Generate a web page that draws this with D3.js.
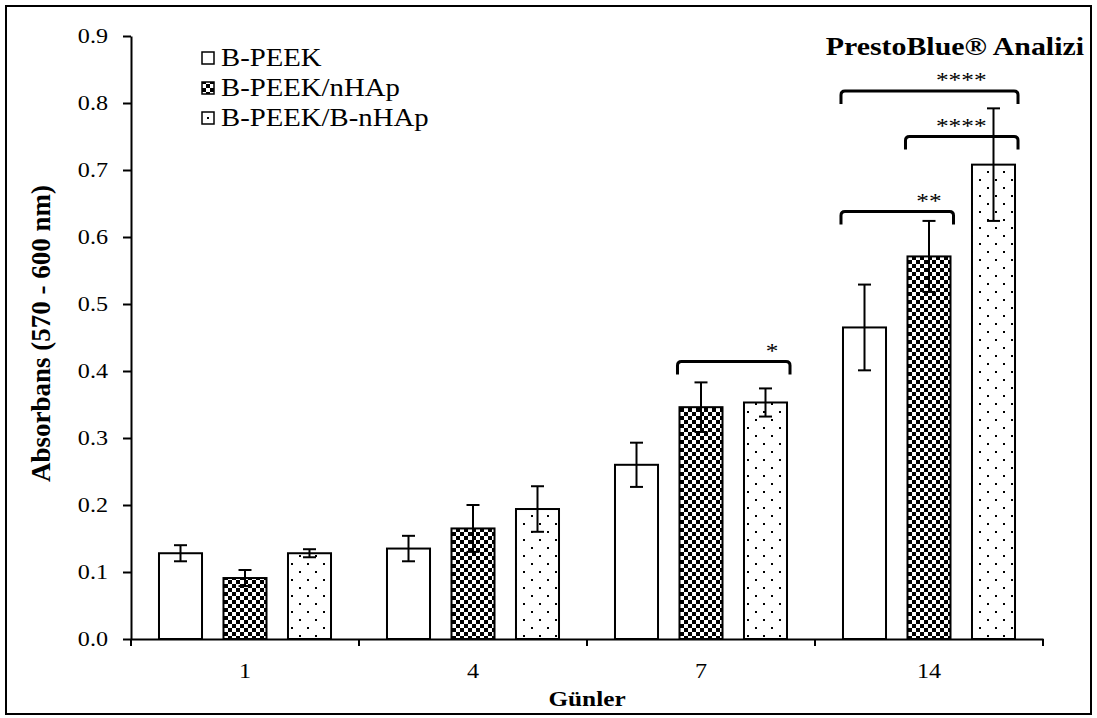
<!DOCTYPE html>
<html>
<head>
<meta charset="utf-8">
<script src="https://cdn.jsdelivr.net/npm/d3@7"></script>
<style>
  body { margin: 0; background: #fff; }
  svg text { font-family: "Liberation Serif", "Times New Roman", serif; fill: #000; }
</style>
</head>
<body>
<div id="vis-container"></div>
<script>
// chart data
const days = ["1", "4", "7", "14"];
const groups = ["B-PEEK", "B-PEEK/nHAp", "B-PEEK/B-nHAp"];
const peek = [0.128, 0.135, 0.260, 0.465];
const peekErr = [0.012, 0.019, 0.033, 0.064];
const nhap = [0.091, 0.165, 0.346, 0.571];
const nhapErr = [0.012, 0.035, 0.037, 0.053];
const bnhap = [0.128, 0.194, 0.353, 0.708];
const bnhapErr = [0.006, 0.034, 0.021, 0.084];
const yTicks = [0, 0.1, 0.2, 0.3, 0.4, 0.5, 0.6, 0.7, 0.8, 0.9];

// significance brackets
const sigDay = ["7", "14", "14", "14"];
const sigFrom = [1, 0, 1, 0];
const sigTo = [2, 1, 2, 2];
const sigLevel = [0.414, 0.638, 0.750, 0.818];
const sigStars = ["*", "**", "****", "****"];
const sigStarAt = [2.1, 1, 1.5, 1.5];

const width = 1097;
const height = 718;
const margin = { top: 36, right: 54, bottom: 79, left: 131 };
const SX = 1.15; // the picture is a bit stretched sideways

const svg = d3.select("#vis-container")
    .append("svg")
    .attr("width", width)
    .attr("height", height);

// patterns
const defs = svg.append("defs");
const checker = defs.append("pattern")
    .attr("id", "checker")
    .attr("patternUnits", "userSpaceOnUse")
    .attr("width", 8).attr("height", 8);
checker.append("rect").attr("width", 8).attr("height", 8).attr("fill", "#fff");
checker.append("rect").attr("width", 4).attr("height", 4).attr("fill", "#000");
checker.append("rect").attr("x", 4).attr("y", 4).attr("width", 4).attr("height", 4).attr("fill", "#000");

const dots = defs.append("pattern")
    .attr("id", "dots")
    .attr("patternUnits", "userSpaceOnUse")
    .attr("width", 16).attr("height", 16);
dots.append("rect").attr("width", 16).attr("height", 16).attr("fill", "#fff");
dots.append("rect").attr("x", 3).attr("y", 3).attr("width", 2).attr("height", 2).attr("fill", "#000");
dots.append("rect").attr("x", 11).attr("y", 11).attr("width", 2).attr("height", 2).attr("fill", "#000");

const fills = ["#fff", "url(#checker)", "url(#dots)"];

// outer frame
svg.append("rect")
    .attr("x", 6).attr("y", 6)
    .attr("width", width - 12).attr("height", height - 10)
    .attr("fill", "none")
    .attr("stroke", "#000")
    .attr("stroke-width", 2);

// scales
const x0 = d3.scaleBand()
    .domain(days)
    .range([margin.left, width - margin.right])
    .padding(0);

const x1 = d3.scaleBand()
    .domain(d3.range(groups.length))
    .range([0, x0.bandwidth()])
    .paddingInner(0.333)
    .paddingOuter(0.434);

const y = d3.scaleLinear()
    .domain([0, 0.9])
    .range([height - margin.bottom, margin.top]);

// rows for drawing
const series = [
    { vals: peek, errs: peekErr },
    { vals: nhap, errs: nhapErr },
    { vals: bnhap, errs: bnhapErr }
];
const rows = [];
series.forEach((s, g) => {
    days.forEach((d, i) => {
        rows.push({ day: d, g: g, v: s.vals[i], e: s.errs[i] });
    });
});

// bars
svg.append("g")
    .selectAll("rect")
    .data(rows)
    .enter()
    .append("rect")
    .attr("x", (d) => x0(d.day) + x1(d.g))
    .attr("y", (d) => y(d.v))
    .attr("width", x1.bandwidth())
    .attr("height", (d) => y(0) - y(d.v))
    .attr("fill", (d) => fills[d.g])
    .attr("stroke", "#000")
    .attr("stroke-width", 2);

// error bars
const eb = svg.append("g")
    .attr("stroke", "#000")
    .attr("stroke-width", 2)
    .selectAll("g")
    .data(rows)
    .enter()
    .append("g")
    .attr("transform", (d) => `translate(${x0(d.day) + x1(d.g) + x1.bandwidth() / 2},0)`);
eb.append("line")
    .attr("y1", (d) => y(d.v - d.e))
    .attr("y2", (d) => y(d.v + d.e));
eb.append("line")
    .attr("x1", -6.5).attr("x2", 6.5)
    .attr("y1", (d) => y(d.v + d.e))
    .attr("y2", (d) => y(d.v + d.e));
eb.append("line")
    .attr("x1", -6.5).attr("x2", 6.5)
    .attr("y1", (d) => y(d.v - d.e))
    .attr("y2", (d) => y(d.v - d.e));

// y axis
const yAxis = svg.append("g")
    .attr("transform", `translate(${margin.left},0)`)
    .call(d3.axisLeft(y)
        .tickValues(yTicks)
        .tickFormat(d3.format(".1f"))
        .tickSize(8)
        .tickSizeOuter(0)
        .tickPadding(12));
yAxis.select(".domain").attr("stroke-width", 2);
yAxis.selectAll(".tick line").attr("stroke-width", 2);
yAxis.selectAll(".tick text")
    .attr("font-family", "Liberation Serif")
    .attr("font-size", 21)
    .attr("transform", `scale(${SX},1)`);

// x axis: labels at band centres, ticks on the band edges
const xAxis = svg.append("g")
    .attr("transform", `translate(0,${y(0)})`)
    .call(d3.axisBottom(x0).tickSize(0).tickSizeOuter(0).tickPadding(24));
xAxis.select(".domain").attr("stroke-width", 2);
xAxis.selectAll(".tick text")
    .attr("font-family", "Liberation Serif")
    .attr("font-size", 21)
    .attr("transform", `scale(${SX},1)`);
xAxis.selectAll(".edge")
    .data(days.concat(["end"]))
    .enter()
    .append("line")
    .attr("class", "edge")
    .attr("x1", (d) => d === "end" ? x0.range()[1] : x0(d))
    .attr("x2", (d) => d === "end" ? x0.range()[1] : x0(d))
    .attr("y1", 0).attr("y2", 7)
    .attr("stroke", "#000")
    .attr("stroke-width", 2);

// axis titles
svg.append("text")
    .attr("transform", `translate(${(x0.range()[0] + x0.range()[1]) / 2},${height - 12}) scale(${SX},1)`)
    .attr("text-anchor", "middle")
    .attr("font-size", 22)
    .attr("font-weight", "bold")
    .text("Günler");

svg.append("text")
    .attr("transform", `translate(50,${(y(0) + y(0.9)) / 2 - 4}) rotate(-90)`)
    .attr("text-anchor", "middle")
    .attr("font-size", 27)
    .attr("font-weight", "bold")
    .text("Absorbans (570 - 600 nm)");

// title
svg.append("text")
    .attr("transform", `translate(1084,55) scale(${SX},1)`)
    .attr("text-anchor", "end")
    .attr("font-size", 26)
    .attr("font-weight", "bold")
    .text("PrestoBlue® Analizi");

// legend
const legend = svg.append("g")
    .selectAll("g")
    .data(groups)
    .enter()
    .append("g")
    .attr("transform", (d, i) => `translate(202,${58 + i * 30})`);
legend.append("rect")
    .attr("x", 0).attr("y", -6)
    .attr("width", 12).attr("height", 12)
    .attr("fill", (d, i) => i === 1 ? "url(#checker)" : "#fff")
    .attr("stroke", "#000")
    .attr("stroke-width", 1.5);
legend.filter((d, i) => i === 2)
    .append("rect")
    .attr("x", 5).attr("y", -1)
    .attr("width", 2).attr("height", 2)
    .attr("fill", "#000");
legend.append("text")
    .attr("transform", `translate(19,8) scale(${SX},1)`)
    .attr("font-size", 25)
    .text((d) => d);

// significance brackets
const sig = svg.append("g")
    .selectAll("g")
    .data(sigStars.map((s, i) => ({
        day: sigDay[i], a: sigFrom[i], b: sigTo[i], lvl: sigLevel[i], stars: s, at: sigStarAt[i]
    })))
    .enter()
    .append("g");
sig.append("path")
    .attr("d", (d) => {
        const xa = x0(d.day) + x1(d.a) - 2;
        const xb = x0(d.day) + x1(d.b) + x1.bandwidth() + 3;
        const yt = y(d.lvl);
        const r = 4;
        return `M${xa},${yt + 13} L${xa},${yt + r} Q${xa},${yt} ${xa + r},${yt} ` +
            `L${xb - r},${yt} Q${xb},${yt} ${xb},${yt + r} L${xb},${yt + 13}`;
    })
    .attr("fill", "none")
    .attr("stroke", "#000")
    .attr("stroke-width", 3);
sig.append("text")
    .attr("transform", (d) => `translate(${x0(d.day) + x1.step() * d.at + x1(0) + x1.bandwidth() / 2},${y(d.lvl) - 4}) scale(${SX},1)`)
    .attr("text-anchor", "middle")
    .attr("font-family", "Liberation Sans")
    .attr("font-size", 22)
    .text((d) => d.stars);
</script>
</body>
</html>
